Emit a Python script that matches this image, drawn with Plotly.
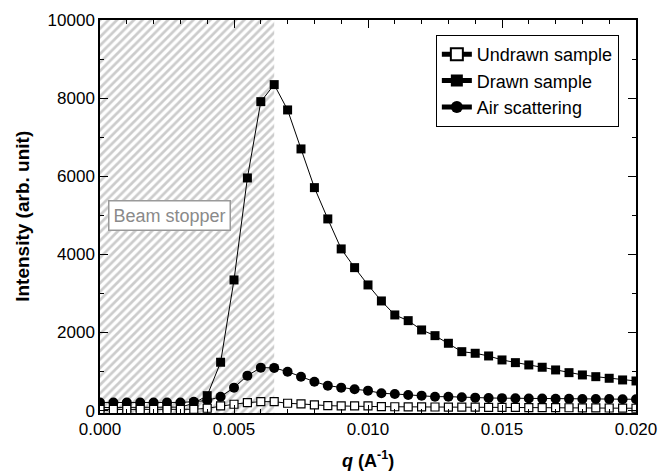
import plotly.graph_objects as go

# Scattering vector q (1/A)
q = [0.0000, 0.0005, 0.0010, 0.0015, 0.0020, 0.0025, 0.0030, 0.0035, 0.0040, 0.0045,
     0.0050, 0.0055, 0.0060, 0.0065, 0.0070, 0.0075, 0.0080, 0.0085, 0.0090, 0.0095,
     0.0100, 0.0105, 0.0110, 0.0115, 0.0120, 0.0125, 0.0130, 0.0135, 0.0140, 0.0145,
     0.0150, 0.0155, 0.0160, 0.0165, 0.0170, 0.0175, 0.0180, 0.0185, 0.0190, 0.0195,
     0.0200]

undrawn = [30, 30, 30, 30, 30, 30, 30, 35, 61, 120,
           164, 205, 230, 230, 189, 172, 146, 128, 120, 120,
           120, 102, 100, 98, 96, 94, 92, 90, 88, 86,
           84, 82, 80, 78, 76, 74, 72, 70, 68, 65,
           61]

drawn = [80, 80, 80, 80, 80, 85, 90, 189, 384, 1239,
         3346, 5957, 7910, 8346, 7698, 6700, 5709, 4908, 4140, 3661,
         3218, 2808, 2450, 2304, 2066, 1920, 1725, 1510, 1469, 1400,
         1298, 1229, 1170, 1111, 1042, 973, 914, 870, 829, 786,
         760]

air = [210, 210, 210, 210, 210, 210, 210, 230, 260, 358,
       589, 896, 1101, 1095, 998, 870, 742, 640, 589, 548,
       512, 445, 428, 402, 384, 358, 358, 343, 333, 325,
       320, 315, 312, 308, 305, 302, 300, 298, 296, 294,
       292]

BEAM_STOPPER_Q = 0.0065
Y_MIN, Y_MAX = -60, 10000

fig = go.Figure()

# Hatched region covered by the beam stopper
fig.add_trace(go.Scatter(
    x=[0, BEAM_STOPPER_Q, BEAM_STOPPER_Q, 0, 0],
    y=[Y_MIN, Y_MIN, Y_MAX, Y_MAX, Y_MIN],
    mode="lines", fill="toself", line=dict(width=0),
    fillcolor="white",
    fillpattern=dict(shape="/", size=6, solidity=0.45,
                     fgcolor="#999999", bgcolor="white"),
    showlegend=False, hoverinfo="skip",
))

fig.add_trace(go.Scatter(
    x=q, y=air, name="Air scattering", mode="lines+markers",
    line=dict(color="black", width=1),
    marker=dict(symbol="circle", size=10, color="black"),
    legendrank=3,
))
fig.add_trace(go.Scatter(
    x=q, y=drawn, name="Drawn sample", mode="lines+markers",
    line=dict(color="black", width=1),
    marker=dict(symbol="square", size=9, color="black"),
    legendrank=2,
))
fig.add_trace(go.Scatter(
    x=q, y=undrawn, name="Undrawn sample", mode="lines+markers",
    line=dict(color="black", width=1),
    marker=dict(symbol="square", size=8, color="white",
                line=dict(color="black", width=1.2)),
    legendrank=1,
))

font = "Liberation Sans, Arial, sans-serif"

fig.add_annotation(
    x=0.0026, y=5000, text="Beam stopper", showarrow=False,
    font=dict(family=font, size=18, color="#8a8a8a"),
    bgcolor="white", bordercolor="#9a9a9a", borderwidth=1.5, borderpad=4,
)

# Axis titles placed below / left of the plot area
fig.add_annotation(
    x=0.5, xref="paper", y=-0.118, yref="paper", yanchor="middle",
    text="<b><i>q</i> (A<sup>-1</sup>)</b>", showarrow=False,
    font=dict(family=font, size=18, color="black"),
)
fig.add_annotation(
    x=-0.145, xref="paper", y=0.5, yref="paper", xanchor="center",
    text="<b>Intensity (arb. unit)</b>", showarrow=False, textangle=-90,
    font=dict(family=font, size=19, color="black"),
)

axis_common = dict(
    showline=True, linecolor="black", linewidth=1.5, mirror="ticks",
    ticks="inside", ticklen=8, tickwidth=1.2, tickcolor="black",
    showgrid=False, zeroline=False, automargin=False,
    tickfont=dict(family=font, size=17, color="black"),
)

fig.update_xaxes(
    range=[0, 0.020], dtick=0.005, tick0=0, tickformat=".3f",
    minor=dict(dtick=0.001, ticks="inside", ticklen=4, tickcolor="black", tickwidth=1),
    **axis_common,
)
fig.update_yaxes(
    range=[Y_MIN, Y_MAX], dtick=2000, tick0=0, tickformat="d",
    minor=dict(dtick=1000, ticks="inside", ticklen=4, tickcolor="black", tickwidth=1),
    **axis_common,
)

fig.update_layout(
    width=659, height=475,
    margin=dict(l=100, r=23, t=20, b=62),
    paper_bgcolor="white", plot_bgcolor="white",
    showlegend=True,
    legend=dict(
        x=0.968, y=0.962, xanchor="right", yanchor="top",
        bgcolor="white", bordercolor="black", borderwidth=1,
        font=dict(family=font, size=18, color="black"),
        itemsizing="constant", tracegroupgap=0,
    ),
)

fig.write_html("out.html")
